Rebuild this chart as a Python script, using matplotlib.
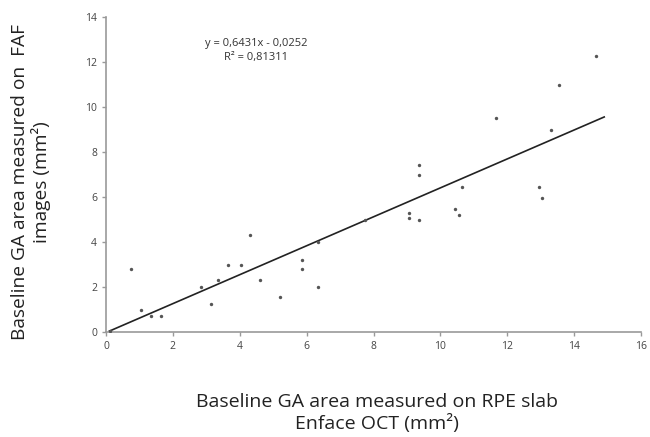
import os
os.environ.setdefault("MPLBACKEND", "Agg")
import matplotlib.pyplot as plt
import numpy as np

# Enface OCT area (x) vs FAF area (y), mm2
oct_area = [0.12, 0.75, 1.05, 1.35, 1.65, 2.85, 3.15, 3.35, 3.65, 4.05, 4.3, 4.6,
            5.2, 5.85, 5.85, 6.35, 6.35, 7.75, 9.05, 9.05, 9.35, 9.35, 9.35,
            10.45, 10.55, 10.65, 11.65, 12.95, 13.05, 13.3, 13.55, 14.65]
faf_area = [0.05, 2.8, 1.0, 0.7, 0.72, 2.0, 1.25, 2.3, 3.0, 3.0, 4.3, 2.3,
            1.57, 3.2, 2.8, 4.0, 2.0, 5.0, 5.3, 5.08, 4.96, 7.0, 7.44,
            5.47, 5.2, 6.43, 9.5, 6.43, 5.97, 9.0, 11.0, 12.25]
slope, intercept = 0.6431, -0.0252
fit_x = [0.1, 14.9]

plt.rcParams['font.family'] = ['Open Sans', 'DejaVu Sans']

fig = plt.figure(figsize=(6.5, 4.37), dpi=100)
ax = fig.add_axes([106/650, 1 - 332/437, 535/650, 315/437])

ax.scatter(oct_area, faf_area, s=6, color="#555555", zorder=3, linewidths=0)
fx = np.array(fit_x)
ax.plot(fx, slope * fx + intercept, color="#222222", lw=1.2)

ax.set_xlim(0, 16); ax.set_ylim(0, 14)
ax.set_xticks(range(0, 17, 2)); ax.set_yticks(range(0, 15, 2))
for s in ["top", "right"]:
    ax.spines[s].set_visible(False)
for s in ["left", "bottom"]:
    ax.spines[s].set_color("#999999"); ax.spines[s].set_linewidth(1.2)
ax.tick_params(colors="#999999", labelcolor="#444444", labelsize=7.5, length=3, width=1)

ax.text(0.28, 0.893, "y = 0,6431x - 0,0252\nR² = 0,81311", transform=ax.transAxes,
        ha="center", va="center", fontsize=8, color="#333333", linespacing=1.35)

fig.text(377/650, 1 - 413/437, "Baseline GA area measured on RPE slab\nEnface OCT (mm²)",
         ha="center", va="center", fontsize=14, color="#222222", linespacing=1.2)
fig.text(31/650, 1 - 182/437, "Baseline GA area measured on  FAF\nimages (mm²)",
         ha="center", va="center", rotation=90, fontsize=13.8, color="#222222", linespacing=1.1)

fig.savefig("out.png", dpi=100)
